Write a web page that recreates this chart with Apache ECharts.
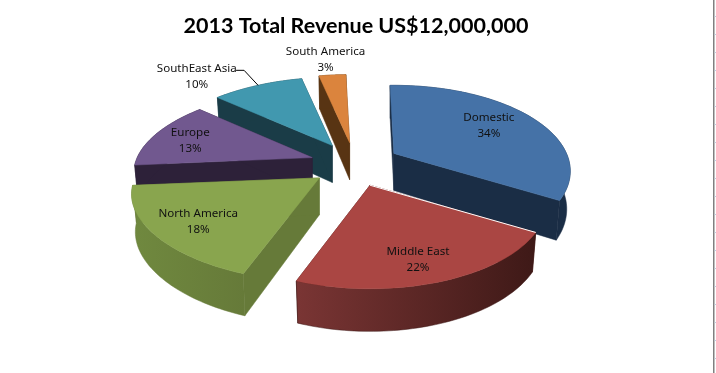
<!DOCTYPE html>
<html>
<head>
<meta charset="utf-8">
<title>2013 Total Revenue</title>
<script src="https://cdn.jsdelivr.net/npm/echarts@6/dist/echarts.min.js"></script>
<style>
  html, body { margin: 0; padding: 0; background: #fff; }
  #chart { width: 716px; height: 373px; }
</style>
</head>
<body>
<div id="chart"></div>
<script>
// chart data
const titleText = '2013 Total Revenue US$12,000,000';
const regions = ['Domestic', 'Middle East', 'North America', 'Europe', 'SouthEast Asia', 'South America'];
const sharePct = [34, 22, 18, 13, 10, 3];

// slice colours
const topColors = ['#4572a7', '#aa4643', '#89a54e', '#71588f', '#4198af', '#db843d'];
const edgeColors = ['#1a2d45', '#441b19', '#667a39', '#2d2139', '#1a3c47', '#583413'];
const wallLeft = ['#1a2d45', '#7a3534', '#70893f', '#2d2139', '#1a3c47', '#583413'];
const wallRight = ['#1a2d45', '#3e1917', '#667a39', '#2d2139', '#1a3c47', '#583413'];

// fake 3d projection settings
const pie = {
  cx: 355, cy: 164.5, // centre before the explode offset
  radius: 172.6,
  squash: 0.476,      // ellipse ratio
  persp: 0.207,       // back of the disc looks smaller
  explodeX: 45,
  explodeY: 22,
  depth: 37,
  bottomScale: 0.98,
  leftStretch: 0.035, // left side of the picture is a bit wider
  startAngle: -1.5
};

// small per slice width correction, NA sticks out past Europe in the original
const sliceWidth = [1, 1, 1.03, 0.98, 1, 1];

// label centres relative to each slice tip
const labelOffsets = [[95, -27.5], [48, 74], [-121, 44], [-122, -16.5], [-135.5, -68.5], [-24, -82.6]];
const outsideLeader = 4; // SouthEast Asia has a leader line
const lightEdgeSlice = 1; // Middle East has a thin white back edge

const rad = (d) => d * Math.PI / 180;

function project(angle, bottom) {
  const a = rad(angle);
  const w = 1 + pie.persp * Math.cos(a);
  const s = Math.sin(a);
  let x = pie.radius * s / w;
  let y = -pie.radius * pie.squash * Math.cos(a) / w;
  if (s < 0) x *= 1 + pie.leftStretch * Math.pow(-s, 3);
  if (bottom) {
    x *= pie.bottomScale;
    y += pie.depth / Math.pow(w, 0.6);
  }
  return [x, y];
}

const total = sharePct.reduce((s, v) => s + v, 0);
const angles = [];
let cursor = pie.startAngle;
sharePct.forEach((v) => {
  const span = v / total * 360;
  angles.push([cursor, cursor + span]);
  cursor += span;
});

const midAngle = (i) => rad((angles[i][0] + angles[i][1]) / 2);

// paint from the back of the pie to the front
const drawOrder = regions.map((_, i) => i).sort((p, q) => Math.cos(midAngle(q)) - Math.cos(midAngle(p)));

function renderSlice(params, api) {
  const i = api.value(0);
  const [a0, a1] = angles[i];
  const mid = midAngle(i);
  const tx = pie.cx + pie.explodeX * Math.sin(mid);
  const ty = pie.cy - pie.explodeY * Math.cos(mid);
  const at = (p) => [tx + p[0] * sliceWidth[i], ty + p[1]];

  const topArc = [];
  const bottomArc = [];
  for (let k = 0; k <= 60; k++) {
    const a = a0 + (a1 - a0) * k / 60;
    topArc.push(at(project(a, false)));
    bottomArc.push(at(project(a, true)));
  }
  const tipTop = [tx, ty];
  const tipBottom = [tx, ty + pie.depth];

  const poly = (points, fill) => ({
    type: 'polygon',
    shape: { points },
    style: { fill, stroke: typeof fill === 'string' ? fill : wallRight[i], lineWidth: 0.5 }
  });

  const children = [
    poly([tipTop, topArc[0], bottomArc[0], tipBottom], edgeColors[i]),
    poly([tipTop, topArc[60], bottomArc[60], tipBottom], edgeColors[i]),
    poly(topArc.concat(bottomArc.slice().reverse()), new echarts.graphic.LinearGradient(
      0, 0, 1, 0,
      [{ offset: 0, color: wallLeft[i] }, { offset: 1, color: wallRight[i] }]
    )),
    poly([tipTop].concat(topArc), topColors[i])
  ];

  if (i === lightEdgeSlice) {
    children.push({
      type: 'line',
      shape: { x1: tipTop[0], y1: tipTop[1], x2: topArc[0][0], y2: topArc[0][1] },
      style: { stroke: '#fff', lineWidth: 1 }
    });
  }

  const off = labelOffsets[i];
  children.push({
    type: 'text',
    style: {
      text: regions[i] + '\n' + sharePct[i] + '%',
      x: tx + off[0],
      y: ty + off[1],
      align: 'center',
      verticalAlign: 'middle',
      font: '11.6px "Noto Sans"',
      lineHeight: 16,
      fill: '#111'
    }
  });

  if (i === outsideLeader) {
    const end = at(project((a0 + a1) / 2, false));
    children.push({
      type: 'polyline',
      shape: { points: [[end[0] - 22, end[1] - 15], [end[0] - 14, end[1] - 15], end] },
      style: { stroke: '#000', lineWidth: 1, fill: null }
    });
  }
  return { type: 'group', children };
}

// sheet edge showing at the right of the screenshot
const sheetEdge = [{ type: 'rect', shape: { x: 713, y: 0, width: 1.5, height: 373 }, style: { fill: '#808080' } }];
for (let y = 16; y < 373; y += 18) {
  sheetEdge.push({ type: 'rect', shape: { x: 714.5, y, width: 1.5, height: 1 }, style: { fill: '#c3cde0' } });
}

const myChart = echarts.init(document.getElementById('chart'), null, { renderer: 'canvas' });
myChart.setOption({
  animation: false,
  backgroundColor: '#fff',
  title: {
    text: titleText,
    left: 351,
    top: 10,
    textAlign: 'center',
    textStyle: { fontFamily: 'Lato', fontSize: 21.5, fontWeight: 'bold', color: '#000' }
  },
  graphic: sheetEdge,
  series: [{
    type: 'custom',
    coordinateSystem: 'none',
    renderItem: renderSlice,
    encode: { value: 0 },
    data: drawOrder.map((i) => ({ name: regions[i], value: [i, sharePct[i]] }))
  }]
});
</script>
</body>
</html>
